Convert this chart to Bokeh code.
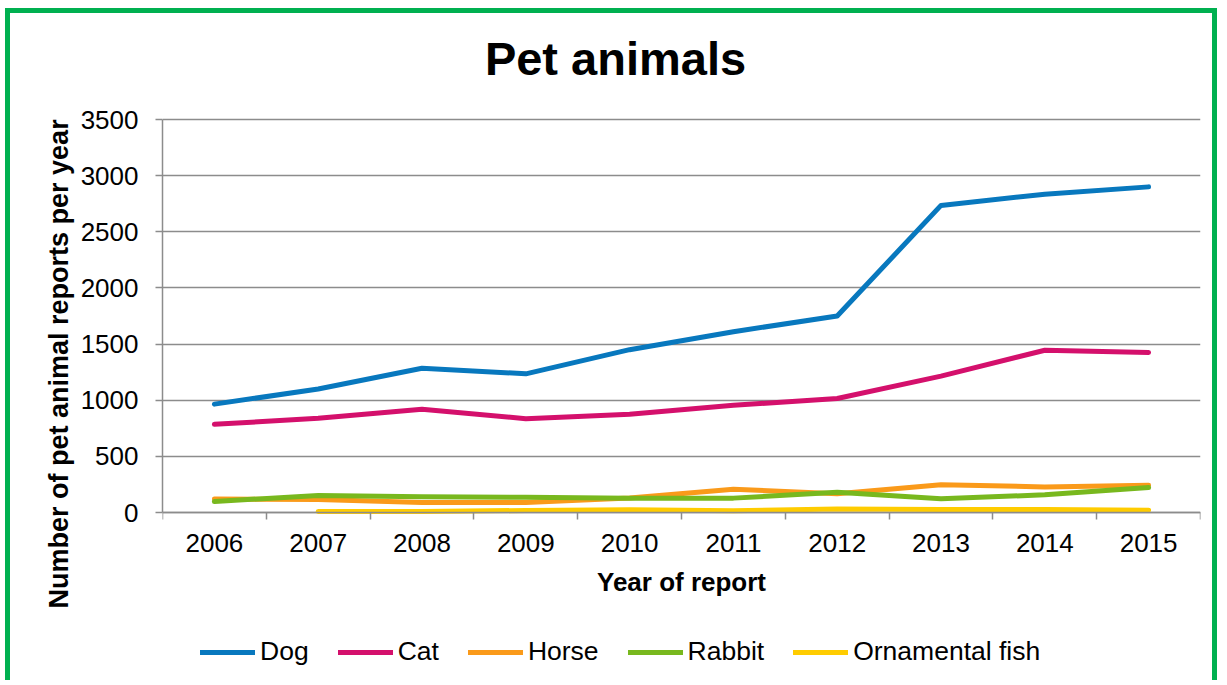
from bokeh.plotting import figure
from bokeh.models import FixedTicker, Legend, LegendItem, Title, Range1d, Label
from bokeh.embed import file_html
from bokeh.resources import INLINE

# ---- data ----
years = [2006, 2007, 2008, 2009, 2010, 2011, 2012, 2013, 2014, 2015]
dog = [965, 1100, 1285, 1235, 1450, 1610, 1750, 2735, 2835, 2900]
cat = [785, 840, 920, 835, 875, 955, 1015, 1215, 1445, 1425]
horse = [120, 115, 88, 90, 130, 208, 168, 248, 228, 242]
rabbit = [98, 152, 140, 135, 128, 128, 180, 122, 158, 222]
fish_years = [2007, 2008, 2009, 2010, 2011, 2012, 2013, 2014, 2015]
fish = [8, 10, 18, 24, 15, 32, 27, 27, 21]
y_ticks = [0, 500, 1000, 1500, 2000, 2500, 3000, 3500]
series_names = ["Dog", "Cat", "Horse", "Rabbit", "Ornamental fish"]
colors = ["#0878BE", "#D4106C", "#FA9A1A", "#78B81E", "#FFCC00"]
title_text = "Pet animals"

FONT = "Liberation Sans"
GREY = "#8C8C8C"

# layout (pixels): value area 393 px tall, 106 px above it (title) and
# 173 px below it (axis labels, legend), all inside one frame
W, H = 1212, 672
LEFT, RIGHT = 152, 22
TOP_PX, PLOT_PX, BELOW_PX = 106, 393, 173
span = y_ticks[-1] - y_ticks[0]
y_lo = y_ticks[0] - span * BELOW_PX / PLOT_PX
y_hi = y_ticks[-1] + span * TOP_PX / PLOT_PX

p = figure(width=W, height=H, output_backend="svg", toolbar_location=None,
           x_range=Range1d(years[0] - 0.5, years[-1] + 0.5),
           y_range=Range1d(y_lo, y_hi),
           min_border_left=LEFT, min_border_right=RIGHT, min_border_top=0,
           min_border_bottom=0)
p.styles = {"border": "5px solid #00B050", "border-bottom": "none",
            "margin-left": "5px", "margin-top": "8px"}
p.outline_line_color = None
p.background_fill_color = "white"
p.border_fill_color = "white"

# title (screen units, relative to the frame's bottom-left corner)
p.add_layout(Label(x=453, y=627, x_units="screen", y_units="screen", text=title_text,
                   text_align="center", text_baseline="alphabetic",
                   text_font=FONT, text_font_size="47px", text_font_style="bold",
                   text_color="black"))

# x axis (drawn at value 0 inside the frame)
xa = p.xaxis[0]
xa.fixed_location = 0
xa.ticker = FixedTicker(ticks=years, minor_ticks=[y - 0.5 for y in years] + [years[-1] + 0.5])
xa.major_tick_out = 0
xa.major_tick_in = 0
xa.minor_tick_out = 7
xa.minor_tick_in = 0
xa.minor_tick_line_color = GREY
xa.minor_tick_line_width = 1.5
xa.axis_line_color = GREY
xa.axis_line_width = 1.5
xa.major_label_text_font = FONT
xa.major_label_text_font_size = "26px"
xa.major_label_text_color = "black"
xa.major_label_standoff = 14
xa.axis_label = "Year of report"
xa.axis_label_text_font = FONT
xa.axis_label_text_font_size = "26px"
xa.axis_label_text_font_style = "bold"
xa.axis_label_text_color = "black"
xa.axis_label_standoff = 12

# y axis
ya = p.yaxis[0]
ya.bounds = (y_ticks[0], y_ticks[-1])
ya.ticker = FixedTicker(ticks=y_ticks, minor_ticks=[])
ya.major_tick_out = 7
ya.major_tick_in = 0
ya.major_tick_line_color = GREY
ya.major_tick_line_width = 1.5
ya.minor_tick_out = 0
ya.minor_tick_in = 0
ya.axis_line_color = GREY
ya.axis_line_width = 1.5
ya.major_label_text_font = FONT
ya.major_label_text_font_size = "26px"
ya.major_label_text_color = "black"
ya.major_label_standoff = 17

p.add_layout(Title(text="Number of pet animal reports per year", align="left", offset=77,
                   text_font=FONT, text_font_size="27px", text_font_style="bold",
                   text_color="black", standoff=8), "left")

p.xgrid.visible = False
p.ygrid.grid_line_color = GREY
p.ygrid.grid_line_width = 1.5

# lines
data = [(years, dog), (years, cat), (years, horse), (years, rabbit), (fish_years, fish)]
items = []
for (xs, ys), name, c in zip(data, series_names, colors):
    r = p.line(xs, ys, line_color=c, line_width=5, line_cap="round", line_join="round")
    items.append(LegendItem(label=name, renderers=[r]))

legend = Legend(items=items, orientation="horizontal", location=(38, 18),
                glyph_width=55, glyph_height=24, label_standoff=5, spacing=29,
                padding=0, margin=0, border_line_color=None, background_fill_alpha=0,
                label_text_font=FONT, label_text_font_size="26.5px", label_text_color="black")
p.add_layout(legend)

open("out.html", "w").write(file_html(p, INLINE))
